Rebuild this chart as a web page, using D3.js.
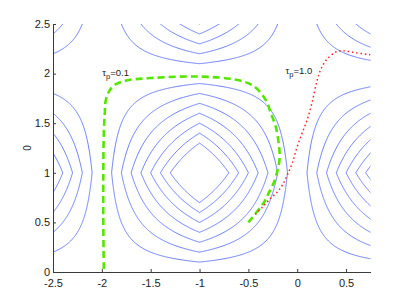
<!DOCTYPE html>
<html><head><meta charset="utf-8">
<script src="https://cdn.jsdelivr.net/npm/d3@7"></script>
<style>
html,body{margin:0;padding:0;background:#fff;}
svg{display:block;font-family:"Liberation Sans",Arial,Helvetica,sans-serif;}
</style></head>
<body>
<svg id="chart" width="409" height="307"></svg>
<script>
// ---- data ----
const xTicks = [-2.5, -2, -1.5, -1, -0.5, 0, 0.5];
const yTicks = [0, 0.5, 1, 1.5, 2, 2.5];
const xDomain = [-2.5, 0.75];
const yDomain = [0, 2.5];
const contourLevels = [-0.7, -0.6, -0.5, -0.4, -0.3, -0.2, -0.1, 0.1, 0.2, 0.3, 0.4, 0.5, 0.6, 0.7];
// trajectory tau_p = 0.1 (green dashed)
const trajFastX = [-1.98, -1.985, -1.985, -1.98, -1.97, -1.96, -1.92, -1.87, -1.75, -1.5, -1.0, -0.61, -0.44, -0.32, -0.27, -0.22, -0.19, -0.18, -0.20, -0.24, -0.29, -0.34, -0.41, -0.50];
const trajFastY = [0.03, 0.5, 1.0, 1.4, 1.6, 1.73, 1.83, 1.885, 1.93, 1.955, 1.97, 1.935, 1.87, 1.73, 1.6, 1.465, 1.3, 1.15, 1.03, 0.90, 0.80, 0.70, 0.61, 0.50];
// trajectory tau_p = 1.0 (red dotted)
const trajSlowX = [0.75, 0.6, 0.47, 0.40, 0.30, 0.24, 0.20, 0.15, 0.10, 0.05, 0.0, -0.05, -0.10, -0.15, -0.20, -0.27, -0.35, -0.44];
const trajSlowY = [2.19, 2.21, 2.23, 2.22, 2.14, 2.04, 1.92, 1.70, 1.53, 1.40, 1.265, 1.10, 0.98, 0.88, 0.81, 0.745, 0.66, 0.57];
const labels = [
  {name: "τ", sub: "p", rest: "=0.1", x: -1.995, y: 1.98},
  {name: "τ", sub: "p", rest: "=1.0", x: -0.12, y: 2.0}
];
const yLabel = "0";

// ---- layout ----
const svg = d3.select("#chart");
const L = 53, R = 370.5, T = 24, B = 272;
const xs = d3.scaleLinear().domain(xDomain).range([L, R]);
const ys = d3.scaleLinear().domain(yDomain).range([B, T]);

svg.append("defs").append("clipPath").attr("id", "clip")
  .append("rect").attr("x", L).attr("y", T).attr("width", R - L).attr("height", B - T);

// stream function field (cellular flow, triangle-wave profile)
function tri(v) { const s = (((v + 1) % 4) + 4) % 4; return 1 - Math.abs(s - 2); }
const h = 0.01, gx0 = -2.8, gy0 = -0.3;
const n = Math.round((1.05 - gx0) / h) + 1, m = Math.round((2.8 - gy0) / h) + 1;
const values = new Float64Array(n * m);
for (let j = 0; j < m; j++) for (let i = 0; i < n; i++) {
  values[j * n + i] = tri(gx0 + i * h) * tri(gy0 + j * h);
}
const contours = d3.contours().size([n, m]).thresholds(contourLevels)(values);
const proj = d3.geoTransform({point: function(px, py) {
  this.stream.point(xs(gx0 + (px - 0.5) * h), ys(gy0 + (py - 0.5) * h));
}});
const path = d3.geoPath(proj);
const gC = svg.append("g").attr("clip-path", "url(#clip)");
gC.selectAll("path.c").data(contours).enter().append("path")
  .attr("class", "c").attr("d", path)
  .attr("fill", "none").attr("stroke", "#5f72f4").attr("stroke-width", 0.9);

// trajectories
const line = d3.line().x(d => xs(d[0])).y(d => ys(d[1])).curve(d3.curveCatmullRom);
gC.append("path").datum(trajFastX.map((v, i) => [v, trajFastY[i]]))
  .attr("d", line).attr("fill", "none").attr("stroke", "#55e600")
  .attr("stroke-width", 2.6).attr("stroke-dasharray", "7,4");
gC.append("path").datum(trajSlowX.map((v, i) => [v, trajSlowY[i]]))
  .attr("d", line).attr("fill", "none").attr("stroke", "#ff2020")
  .attr("stroke-width", 1.5).attr("stroke-dasharray", "1.5,2.8");

// axes
const ax = svg.append("g").attr("transform", `translate(0,${B})`)
  .call(d3.axisBottom(xs).tickValues(xTicks).tickFormat(d3.format("")).tickSizeInner(-3).tickSizeOuter(0).tickPadding(7));
const ay = svg.append("g").attr("transform", `translate(${L},0)`)
  .call(d3.axisLeft(ys).tickValues(yTicks).tickFormat(d3.format("")).tickSizeInner(-3).tickSizeOuter(0).tickPadding(3));
[ax, ay].forEach(g => {
  g.select(".domain").attr("stroke", "#3a3a3a");
  g.selectAll(".tick line").attr("stroke", "#3a3a3a");
  g.selectAll("text").attr("font-size", 11).attr("fill", "#222").attr("font-family", "Liberation Sans, Arial, sans-serif");
});
ax.selectAll("text").text(d => d < 0 ? "-" + Math.abs(d) : String(d));
ay.selectAll("text").attr("dy", "0.3em");

// labels
labels.forEach(lb => {
  const t = svg.append("text").attr("x", xs(lb.x)).attr("y", ys(lb.y))
    .attr("font-size", 9.5).attr("fill", "#222");
  t.append("tspan").text(lb.name);
  t.append("tspan").attr("dy", 3.5).attr("font-size", 7.5).text(lb.sub);
  t.append("tspan").attr("dy", -3.5).text(lb.rest);
});

svg.append("text").attr("transform", `translate(31,${(T + B) / 2}) rotate(-90)`)
  .attr("text-anchor", "middle").attr("font-size", 10).attr("fill", "#222").text(yLabel);
</script>
</body></html>
